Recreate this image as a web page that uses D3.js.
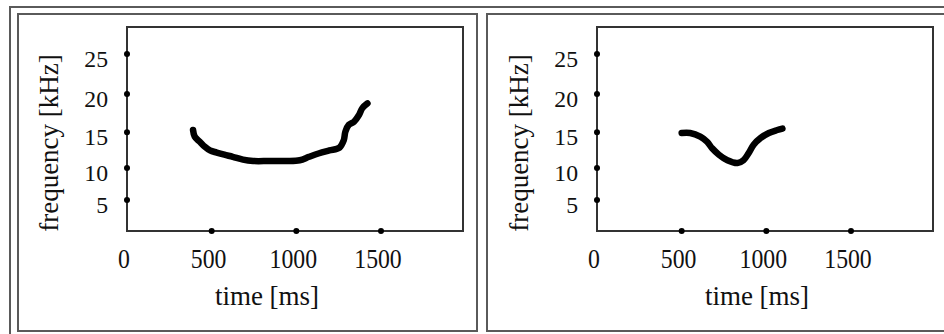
<!DOCTYPE html>
<html>
<head>
<meta charset="utf-8">
<script src="https://cdn.jsdelivr.net/npm/d3@7/dist/d3.min.js"></script>
<style>
  body { margin: 0; background: #fff; }
  svg { display: block; }
  text { font-family: "Liberation Serif", "DejaVu Serif", serif; fill: #111; }
</style>
</head>
<body>
<svg id="chart" width="944" height="334"></svg>
<script>
// contour of the first call (left panel)
const leftTime = [390, 400, 430, 460, 490, 530, 575, 625, 685, 745, 840, 940, 1020, 1075, 1135, 1195, 1255, 1280, 1290, 1310, 1340, 1370, 1390, 1420];
const leftFreq = [15.3, 14.4, 13.7, 13.0, 12.5, 12.2, 11.9, 11.6, 11.2, 11.0, 11.0, 11.0, 11.1, 11.6, 12.1, 12.5, 12.9, 13.9, 15.1, 16.0, 16.4, 17.3, 18.2, 18.8];

// contour of the second call (right panel)
const rightTime = [500, 550, 610, 650, 680, 720, 770, 830, 865, 895, 925, 965, 1015, 1065, 1095];
const rightFreq = [14.9, 14.9, 14.4, 13.7, 12.8, 11.9, 11.1, 10.7, 11.1, 12.1, 13.3, 14.2, 14.9, 15.3, 15.5];

const freqTicks = [5, 10, 15, 20, 25];
const timeTicks = [500, 1000, 1500];
const timeLabels = [0, 500, 1000, 1500];

const svg = d3.select('#chart');

// panel frames
const frame = svg.append('g')
  .attr('fill', 'none')
  .attr('stroke', '#5a5a5a')
  .attr('stroke-width', 2);
frame.append('path').attr('d', 'M10,334 V7 H944');
frame.append('rect').attr('x', 18).attr('y', 14).attr('width', 459).attr('height', 317);
frame.append('rect').attr('x', 487).attr('y', 14).attr('width', 470).attr('height', 317);

function drawPanel(x0, x1, times, freqs, titleShift) {
  const top = 27, bottom = 231;

  const x = d3.scaleLinear()
    .domain([0, 1500])
    .range([x0, x0 + 254]);

  // the original axis is slightly stretched towards the top
  const y = d3.scalePow()
    .exponent(1.2)
    .domain([0, 25])
    .range([224.75, 54]);

  const g = svg.append('g');

  g.append('rect')
    .attr('x', x0)
    .attr('y', top)
    .attr('width', x1 - x0)
    .attr('height', bottom - top)
    .attr('fill', 'none')
    .attr('stroke', '#333')
    .attr('stroke-width', 2);

  // tick dots
  g.selectAll('.ydot')
    .data(freqTicks)
    .enter().append('circle')
    .attr('cx', x0)
    .attr('cy', d => y(d))
    .attr('r', 3)
    .attr('fill', '#000');

  g.selectAll('.xdot')
    .data(timeTicks)
    .enter().append('circle')
    .attr('cx', d => x(d))
    .attr('cy', bottom)
    .attr('r', 3)
    .attr('fill', '#000');

  // tick labels
  g.selectAll('.ylab')
    .data(freqTicks)
    .enter().append('text')
    .attr('text-anchor', 'end')
    .attr('transform', d => `translate(${x0 - 19},${y(d) + 13}) scale(0.95,0.9)`)
    .style('font-size', '25px')
    .text(d => d);

  g.selectAll('.xlab')
    .data(timeLabels)
    .enter().append('text')
    .attr('text-anchor', 'middle')
    .attr('transform', d => `translate(${x(d) - 3},268) scale(0.95,1.05)`)
    .style('font-size', '25px')
    .text(d => d);

  // axis titles
  g.append('text')
    .attr('x', x0 + titleShift)
    .attr('y', 305)
    .attr('text-anchor', 'middle')
    .style('font-size', '27px')
    .text('time [ms]');

  g.append('text')
    .attr('transform', `translate(${x0 - 69},${(top + bottom) / 2 + 14}) rotate(-90)`)
    .attr('text-anchor', 'middle')
    .style('font-size', '27px')
    .text('frequency [kHz]');

  // contour
  const line = d3.line()
    .x(d => x(d[0]))
    .y(d => y(d[1]))
    .curve(d3.curveCatmullRom);

  g.append('path')
    .datum(d3.zip(times, freqs))
    .attr('d', line)
    .attr('fill', 'none')
    .attr('stroke', '#000')
    .attr('stroke-width', 6.5)
    .attr('stroke-linecap', 'round')
    .attr('stroke-linejoin', 'round');
}

drawPanel(127, 463, leftTime, leftFreq, 140);
drawPanel(597, 933, rightTime, rightFreq, 160);
</script>
</body>
</html>
